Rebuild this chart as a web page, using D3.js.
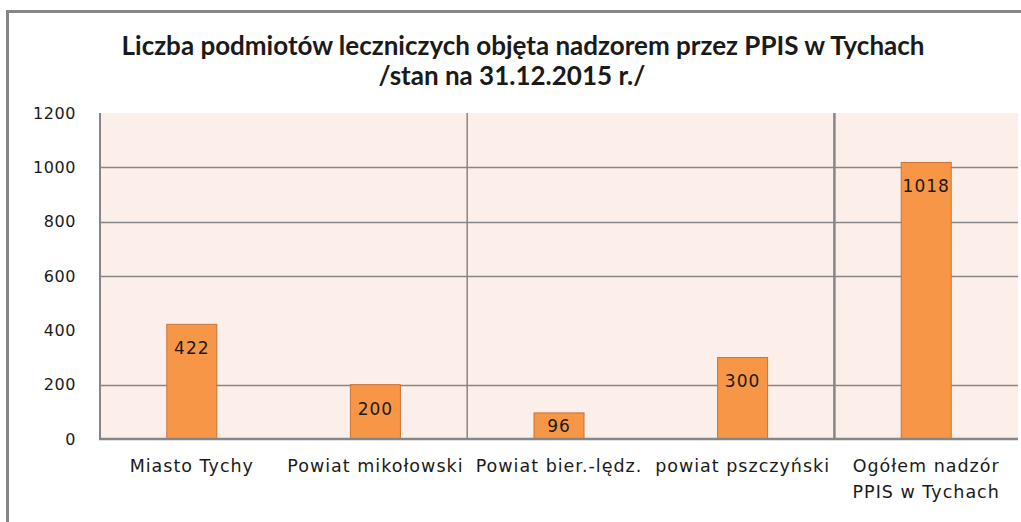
<!DOCTYPE html>
<html>
<head>
<meta charset="utf-8">
<script src="https://cdn.jsdelivr.net/npm/d3@7"></script>
<style>
  body { margin: 0; background: #fff; }
  text { font-family: "DejaVu Sans", sans-serif; }
</style>
</head>
<body>
<svg id="chart" width="1021" height="522"></svg>
<script>
// dane
const categories = ["Miasto Tychy", "Powiat mikołowski", "Powiat bier.-lędz.", "powiat pszczyński", "Ogółem nadzór\nPPIS w Tychach"];
const values = [422, 200, 96, 300, 1018];
const yTicks = [0, 200, 400, 600, 800, 1000, 1200];
const gridValues = [200, 600, 800, 1000];
const titleLines = ["Liczba podmiotów leczniczych objęta nadzorem przez PPIS w Tychach", "/stan na 31.12.2015 r./"];

const svg = d3.select("#chart");

// ramka wykresu
svg.append("line").attr("x1", 8).attr("x2", 1021).attr("y1", 11.5).attr("y2", 11.5)
    .attr("stroke", "#868686").attr("stroke-width", 3);
svg.append("line").attr("x1", 7.5).attr("x2", 7.5).attr("y1", 10).attr("y2", 522)
    .attr("stroke", "#868686").attr("stroke-width", 3);

// obszar wykresu
const plotLeft = 100, plotRight = 1018, plotTop = 113, plotBottom = 439;

const x = d3.scaleBand()
    .domain(categories)
    .range([plotLeft, plotRight])
    .paddingInner(0)
    .paddingOuter(0);

const y = d3.scaleLinear()
    .domain([0, 1200])
    .range([plotBottom, plotTop]);

svg.append("rect")
    .attr("x", plotLeft).attr("y", plotTop)
    .attr("width", plotRight - plotLeft).attr("height", plotBottom - plotTop)
    .attr("fill", "#FCEEE9");

// linie siatki
svg.selectAll(".grid")
    .data(gridValues)
    .enter()
    .append("line")
    .attr("class", "grid")
    .attr("x1", plotLeft).attr("x2", plotRight)
    .attr("y1", d => Math.round(y(d)) + 0.5)
    .attr("y2", d => Math.round(y(d)) + 0.5)
    .attr("stroke", "#868686").attr("stroke-width", 1.5);

// pionowe linie między grupami
const separators = [categories[2], categories[4]];
svg.selectAll(".sep")
    .data(separators)
    .enter()
    .append("line")
    .attr("class", "sep")
    .attr("x1", d => x(d)).attr("x2", d => x(d))
    .attr("y1", plotTop).attr("y2", plotBottom)
    .attr("stroke", "#868686")
    .attr("stroke-width", (d, i) => i === 0 ? 1.5 : 2.5);

// słupki
const barWidth = 50;
svg.selectAll(".bar")
    .data(values)
    .enter()
    .append("rect")
    .attr("class", "bar")
    .attr("x", (d, i) => x(categories[i]) + x.bandwidth() / 2 - barWidth / 2)
    .attr("y", d => y(d))
    .attr("width", barWidth)
    .attr("height", d => y(0) - y(d))
    .attr("fill", "#F79646")
    .attr("stroke", "#C8733A")
    .attr("stroke-width", 1);

// etykiety danych
svg.selectAll(".lbl")
    .data(values)
    .enter()
    .append("text")
    .attr("class", "lbl")
    .attr("x", (d, i) => x(categories[i]) + x.bandwidth() / 2)
    .attr("y", d => {
        const h = y(0) - y(d);
        return h < 40 ? y(d) + h / 2 : y(d) + 24;
    })
    .attr("dy", "0.35em")
    .attr("text-anchor", "middle")
    .attr("font-size", 17)
    .attr("letter-spacing", 1)
    .attr("fill", "#1a1a1a")
    .text(d => d);

// osie
svg.append("line").attr("x1", plotLeft).attr("x2", plotLeft).attr("y1", plotTop).attr("y2", plotBottom + 1)
    .attr("stroke", "#868686").attr("stroke-width", 2);
svg.append("line").attr("x1", plotLeft - 1).attr("x2", plotRight).attr("y1", plotBottom).attr("y2", plotBottom)
    .attr("stroke", "#868686").attr("stroke-width", 2.5);

svg.selectAll(".ytick")
    .data(yTicks)
    .enter()
    .append("text")
    .attr("class", "ytick")
    .attr("x", 76)
    .attr("y", d => y(d))
    .attr("dy", "0.35em")
    .attr("text-anchor", "end")
    .attr("font-size", 16)
    .attr("letter-spacing", 0.6)
    .attr("fill", "#1a1a1a")
    .text(d => d);

const xl = svg.selectAll(".xlab")
    .data(categories)
    .enter()
    .append("text")
    .attr("class", "xlab")
    .attr("x", d => x(d) + x.bandwidth() / 2)
    .attr("y", 466)
    .attr("text-anchor", "middle")
    .attr("font-size", 17.5)
    .attr("letter-spacing", 1)
    .attr("fill", "#1a1a1a");
xl.selectAll("tspan")
    .data(d => d.split("\n"))
    .enter()
    .append("tspan")
    .attr("x", function() { return d3.select(this.parentNode).attr("x"); })
    .attr("dy", (d, i) => i === 0 ? "0.35em" : 26)
    .text(d => d);

// tytuł
svg.selectAll(".title")
    .data(titleLines)
    .enter()
    .append("text")
    .attr("class", "title")
    .attr("x", (d, i) => i === 0 ? 523 : 512)
    .attr("y", (d, i) => 55 + i * 30)
    .attr("text-anchor", "middle")
    .style("font-family", "Lato, sans-serif")
    .attr("font-size", 26)
    .attr("font-weight", "bold")
    .attr("fill", "#1a1a1a")
    .text(d => d);
</script>
</body>
</html>
